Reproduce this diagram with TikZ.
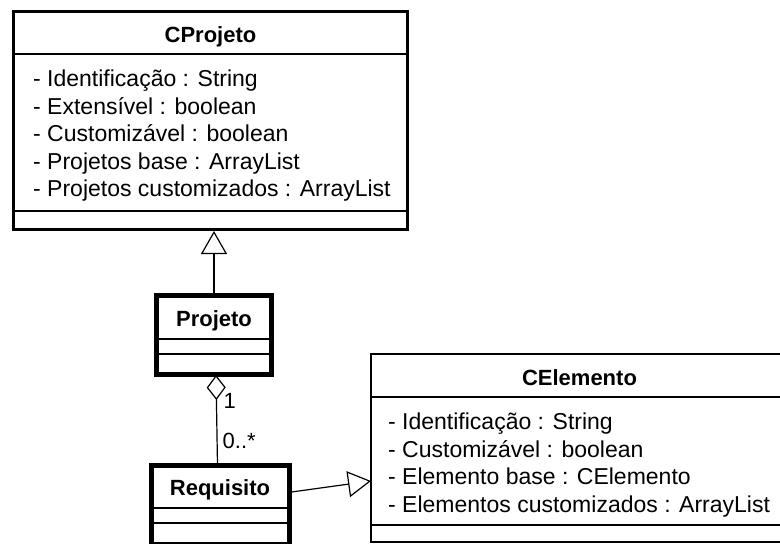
\documentclass[tikz,border=0pt]{standalone}
\usepackage{fontspec}
\setmainfont{Liberation Sans}
\usetikzlibrary{arrows.meta}

\begin{document}
\begin{tikzpicture}[x=1pt,y=-1pt,
  classbox/.style={draw, line width=#1, inner sep=0pt, outer sep=0pt, anchor=north west},
  sepline/.style={line width=1.4pt},
  hdr/.style={inner sep=0pt, anchor=base, font=\fontsize{22}{26}\selectfont\bfseries},
  attr/.style={inner sep=0pt, anchor=base west, font=\fontsize{23}{27.5}\selectfont},
  mult/.style={inner sep=0pt, anchor=base west, font=\fontsize{22}{26}\selectfont},
  gen/.style={line width=1.2pt, -{Triangle[open, length=23pt, width=26pt]}},
  aggr/.style={line width=1.2pt, {Diamond[open, length=25pt, width=19pt]}-}]

\useasboundingbox (0,0) rectangle (780,544);
\clip (0,0) rectangle (780,544);

% class CProjeto
\node[classbox=3pt, minimum width=394pt, minimum height=218pt] (cprojeto) at (13.5,11.5) {};
\draw[sepline] (13.5,54) -- (407.5,54);
\draw[sepline] (13.5,211) -- (407.5,211);
\node[hdr] (cprojeto-name) at (210.5,42.7) {CProjeto};
\node[attr] (cp-a1) at (33,86.8)  {- Identificação : String};
\node[attr] (cp-a2) at (33,114.3) {- Extensível : boolean};
\node[attr] (cp-a3) at (33,141.8) {- Customizável : boolean};
\node[attr] (cp-a4) at (33,169.3) {- Projetos base : ArrayList};
\node[attr] (cp-a5) at (33,196.8) {- Projetos customizados : ArrayList};

% class Projeto
\node[classbox=5pt, minimum width=115pt, minimum height=79pt] (projeto) at (156.5,295.5) {};
\draw[sepline] (156.5,339) -- (271.5,339);
\draw[sepline] (156.5,354) -- (271.5,354);
\node[hdr] (projeto-name) at (214,326.7) {Projeto};

% class Requisito
\node[classbox=5pt, minimum width=138pt, minimum height=79pt] (requisito) at (151,465.5) {};
\draw[sepline] (151,508) -- (289,508);
\draw[sepline] (151,523) -- (289,523);
\node[hdr] (requisito-name) at (220,495) {Requisito};

% class CElemento
\node[classbox=2.5pt, minimum width=418pt, minimum height=188pt] (celemento) at (371,354) {};
\draw[sepline] (371,397) -- (789,397);
\draw[sepline] (371,525) -- (789,525);
\node[hdr] (celemento-name) at (579.5,385) {CElemento};
\node[attr] (ce-a1) at (388,429.5) {- Identificação : String};
\node[attr] (ce-a2) at (388,457)   {- Customizável : boolean};
\node[attr] (ce-a3) at (388,484.5) {- Elemento base : CElemento};
\node[attr] (ce-a4) at (388,512)   {- Elementos customizados : ArrayList};

% connector end points
\coordinate (pj-top) at (214,295.5);
\coordinate (cp-in) at (214,231);
\coordinate (pj-out) at (216,375);
\coordinate (rq-in) at (217.5,465.5);
\coordinate (rq-out) at (291.5,492);
\coordinate (ce-in) at (371,481);

% Projeto specialises CProjeto
\draw[gen] (pj-top) -- (cp-in);
% Projeto aggregates Requisito
\draw[aggr] (pj-out) -- (rq-in);
\node[mult] (m-one) at (223.5,408) {1};
\node[mult] (m-many) at (222.5,448) {0..*};
% Requisito specialises CElemento
\draw[gen] (rq-out) -- (ce-in);
\end{tikzpicture}
\end{document}
